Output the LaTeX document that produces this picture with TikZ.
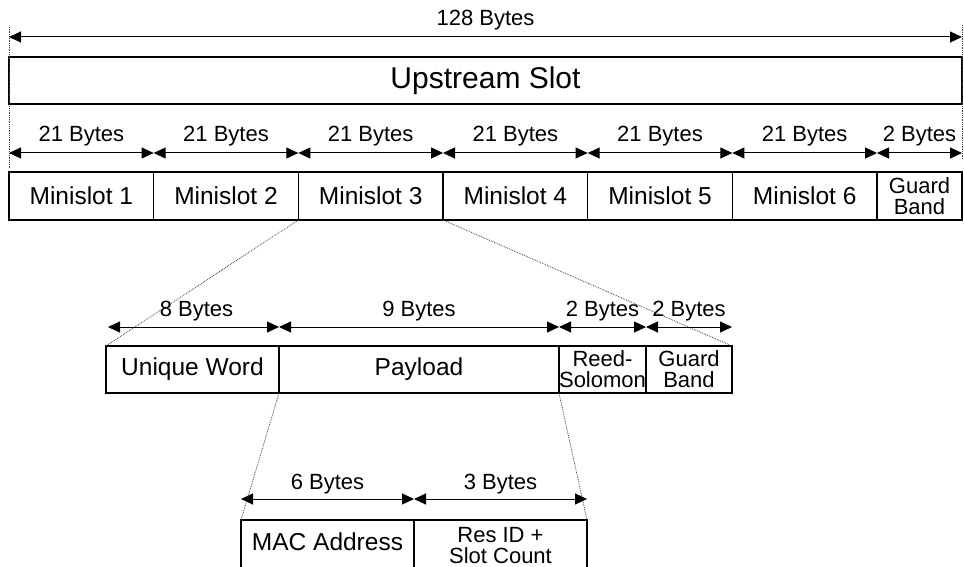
\documentclass[tikz,border=0pt]{standalone}
\usepackage{fontspec}
\setmainfont{Liberation Sans}
\usetikzlibrary{arrows.meta}
\tikzset{
  box/.style={draw, line width=1.2pt, inner sep=0pt, outer sep=0pt, align=center},
  bigtxt/.style={font=\fontsize{30}{32}\selectfont},
  boxtxt/.style={font=\fontsize{24.5}{26}\selectfont},
  smalltxt/.style={font=\fontsize{22}{21}\selectfont},
  dim/.style={line width=1pt, {Triangle[length=12pt,width=11pt]}-{Triangle[length=12pt,width=11pt]}},
  dimlabel/.style={font=\fontsize{22}{24}\selectfont, anchor=base, yshift=11pt, inner sep=0pt},
  guide/.style={line width=0.8pt, densely dotted, black!75}
}
\begin{document}
\begin{tikzpicture}[x=1pt,y=-1pt]
\useasboundingbox (0,0) rectangle (964,567);
\clip (0,0) rectangle (964,567);
% top slot
\node[box, bigtxt, minimum width=953pt, minimum height=47pt] (slot) at (485.5,80.5) {Upstream Slot};
% minislots
\foreach \i in {1,...,6}{
  \node[box, boxtxt, minimum width=144.67pt, minimum height=48pt] (m\i) at ({9+144.67*(\i-0.5)},196) {Minislot \i};
}
\node[box, smalltxt, minimum width=85pt, minimum height=48pt] (mg) at (919.5,196) {Guard\\Band};
% middle row
\node[box, boxtxt, minimum width=173pt, minimum height=47pt] (uw) at (192.5,369.5) {Unique Word};
\node[box, boxtxt, minimum width=280pt, minimum height=47pt] (pl) at (419,369.5) {Payload};
\node[box, smalltxt, minimum width=87pt, minimum height=47pt] (rs) at (602.5,369.5) {Reed-\\Solomon};
\node[box, smalltxt, minimum width=86pt, minimum height=47pt] (gb) at (689,369.5) {Guard\\Band};
% bottom row
\node[box, boxtxt, minimum width=173pt, minimum height=48pt] (mac) at (327.5,544) {};
\node[boxtxt, inner sep=0pt] (mactxt) at (327.5,541.5) {MAC Address};
\node[box, minimum width=173pt, minimum height=48pt] (res) at (500.5,544) {};
\node[smalltxt, align=center, inner sep=0pt] (restxt) at (500.5,546) {Res ID +\\Slot Count};
% guides
\draw[guide] ([yshift=30pt]slot.north west) -- ([yshift=-64pt]slot.south west);
\draw[guide] ([yshift=32pt]slot.north east) -- ([yshift=-56pt]slot.south east);
\draw[guide] (m3.south west) -- (uw.north west);
\draw[guide] (m3.south east) -- (gb.north east);
\draw[guide] (pl.south west) -- (mac.north west);
\draw[guide] (pl.south east) -- (res.north east);
% dimension arrows
\draw[dim] ([yshift=20pt]slot.north west) -- ([yshift=20pt]slot.north east) node[dimlabel, midway] {128 Bytes};
\foreach \n in {m1,m2,m3,m4,m5,m6}{
  \draw[dim] ([yshift=19pt]\n.north west) -- ([yshift=19pt]\n.north east) node[dimlabel, midway] {21 Bytes};
}
\draw[dim] ([yshift=19pt]mg.north west) -- ([yshift=19pt]mg.north east) node[dimlabel, midway] {2 Bytes};
\draw[dim] ([yshift=19pt,xshift=2pt]uw.north west) -- ([yshift=19pt]uw.north east) node[dimlabel, midway, xshift=3pt] {8 Bytes};
\draw[dim] ([yshift=19pt]pl.north west) -- ([yshift=19pt]pl.north east) node[dimlabel, midway] {9 Bytes};
\draw[dim] ([yshift=19pt]rs.north west) -- ([yshift=19pt]rs.north east) node[dimlabel, midway] {2 Bytes};
\draw[dim] ([yshift=19pt]gb.north west) -- ([yshift=19pt]gb.north east) node[dimlabel, midway] {2 Bytes};
\draw[dim] ([yshift=21pt]mac.north west) -- ([yshift=21pt]mac.north east) node[dimlabel, midway, yshift=-1pt] {6 Bytes};
\draw[dim] ([yshift=21pt]res.north west) -- ([yshift=21pt]res.north east) node[dimlabel, midway, yshift=-1pt] {3 Bytes};
\end{tikzpicture}
\end{document}
